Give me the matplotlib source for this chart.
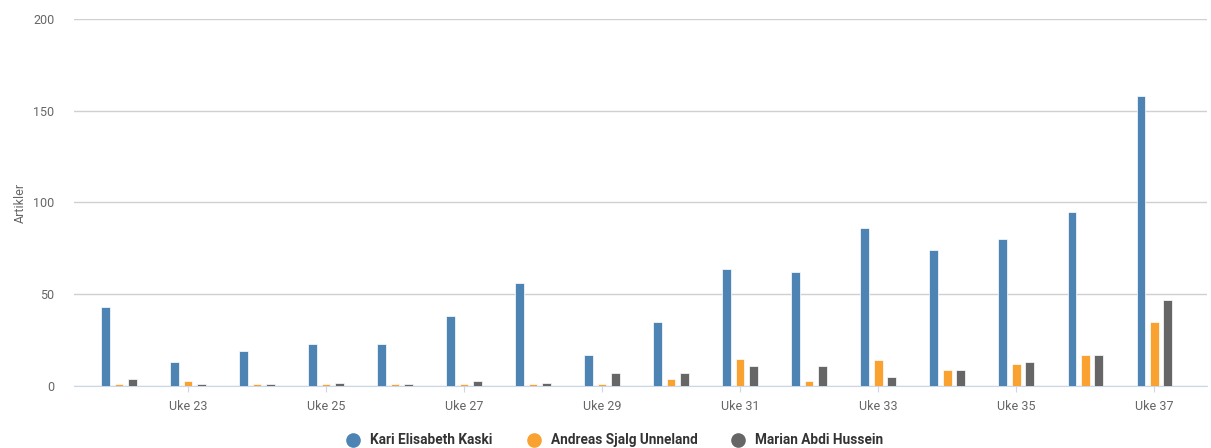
import numpy as np
import matplotlib.pyplot as plt

weeks = np.arange(22, 38)
kari = [43, 13, 19, 23, 23, 38, 56, 17, 35, 64, 62, 86, 74, 80, 95, 158]
andreas = [1, 3, 1, 1, 1, 1, 1, 1, 4, 15, 3, 14, 9, 12, 17, 35]
marian = [4, 1, 1, 2, 1, 3, 2, 7, 7, 11, 11, 5, 9, 13, 17, 47]
names = ['Kari Elisabeth Kaski', 'Andreas Sjalg Unneland', 'Marian Abdi Hussein']
colors = ['#4e84b3', '#f9a231', '#666666']
tick_weeks = [23, 25, 27, 29, 31, 33, 35, 37]

plt.rcParams['font.family'] = ['Roboto', 'DejaVu Sans']

fig = plt.figure(figsize=(12.11, 4.48), dpi=100)
ax = fig.add_axes([0.0611, 0.138, 0.936, 0.82])

w = 0.125
off = 0.195
for i, (vals, c, n) in enumerate(zip([kari, andreas, marian], colors, names)):
    ax.bar(weeks + (i - 1) * off, vals, width=w, color=c, edgecolor='#ffffff',
           linewidth=0.5, label=n, zorder=3)

ax.set_ylim(0, 200)
ax.set_yticks([0, 50, 100, 150, 200])
ax.set_xlim(22 - 0.65, 37 + 0.77)
ax.set_xticks(tick_weeks)
ax.set_xticklabels(['Uke %d' % t for t in tick_weeks])
ax.grid(axis='y', color='#d0d0d0', linewidth=1, zorder=0)
for s in ['top', 'right', 'left']:
    ax.spines[s].set_visible(False)
ax.spines['bottom'].set_color('#ccd6eb')
ax.tick_params(axis='y', length=0, labelsize=9, labelcolor='#666666', pad=14)
ax.tick_params(axis='x', length=4, color='#ccd6eb', labelsize=9, labelcolor='#666666', pad=6)
ax.set_ylabel('Artikler', fontsize=9, color='#666666')
ax.yaxis.set_label_coords(-0.042, 0.5)

handles = [plt.Line2D([], [], marker='o', linestyle='', markersize=9.5, color=c) for c in colors]
fig.legend(handles, names, loc='lower center', bbox_to_anchor=(0.505, -0.026), ncol=3,
           frameon=False, prop={'weight': 'bold', 'size': 9.8}, labelcolor='#333333',
           handletextpad=0.25, columnspacing=2.0)

fig.savefig('out.png', dpi=100)
